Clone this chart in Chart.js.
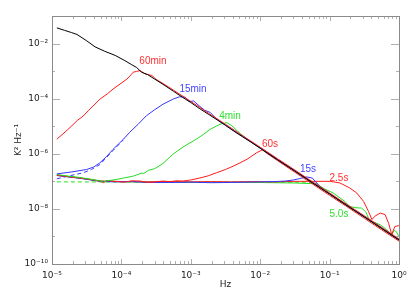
<!DOCTYPE html>
<html>
<head>
<meta charset="utf-8">
<script src="https://cdn.jsdelivr.net/npm/chart.js@4.4.1/dist/chart.umd.min.js"></script>
<style>
  html, body { margin: 0; padding: 0; background: #fff; }
  #wrap { width: 415px; height: 297px; }
</style>
</head>
<body>
<div id="wrap"><canvas id="spectrum" width="415" height="297"></canvas></div>
<script>
// values, stored as log10(Hz) and log10(K^2 Hz^-1)
const blackF = [-4.93,-4.82,-4.72,-4.64,-4.50,-4.38,-4.24,-4.09,-3.95,-3.85,-3.78,-3.71,-3.62,-3.52,-3.40,-3.25,-3.12,-3.00,-2.88,-2.75,-2.62,-2.50,-2.38,-2.25,-2.12,-2.00,-1.75,-1.50,-1.25,-1.00,-0.75,-0.50,-0.25,0];
const blackP = [-1.43,-1.52,-1.60,-1.67,-1.90,-2.12,-2.28,-2.43,-2.62,-2.77,-2.87,-3.04,-3.13,-3.29,-3.48,-3.73,-3.95,-4.14,-4.35,-4.56,-4.77,-4.97,-5.18,-5.39,-5.60,-5.80,-6.22,-6.63,-7.05,-7.46,-7.88,-8.29,-8.71,-9.13];

const red60minF = [-4.93,-4.78,-4.63,-4.55,-4.47,-4.31,-4.20,-4.12,-4.02,-3.92,-3.86,-3.83,-3.78,-3.73,-3.66,-3.56,-3.50,-3.40,-3.25,-3.00,-2.75,-2.50,-2.25,-2.00,-1.75,-1.50,-1.25,-1.00,-0.75,-0.50,-0.25,0];
const red60minP = [-5.47,-5.14,-4.78,-4.63,-4.42,-4.02,-3.82,-3.65,-3.47,-3.29,-3.13,-3.04,-3.01,-2.98,-3.10,-3.16,-3.30,-3.45,-3.69,-4.10,-4.52,-4.93,-5.35,-5.76,-6.18,-6.59,-7.01,-7.42,-7.84,-8.25,-8.67,-9.09];

const blue15minF = [-4.93,-4.72,-4.50,-4.40,-4.31,-4.21,-4.12,-3.97,-3.88,-3.76,-3.64,-3.52,-3.40,-3.25,-3.16,-3.08,-3.02,-2.96,-2.88,-2.80,-2.72,-2.62,-2.50,-2.25,-2.00,-1.75,-1.50,-1.25,-1.00,-0.75,-0.50,-0.25,0];
const blue15minP = [-6.73,-6.66,-6.57,-6.48,-6.33,-6.09,-5.84,-5.47,-5.22,-4.93,-4.62,-4.40,-4.20,-4.01,-3.93,-3.95,-4.11,-4.08,-4.26,-4.42,-4.50,-4.76,-4.96,-5.37,-5.79,-6.21,-6.62,-7.04,-7.45,-7.87,-8.28,-8.70,-9.11];
const blue15minModelF = [-4.93,-4.75,-4.55,-4.43,-4.31,-4.21,-4.12,-3.97];
const blue15minModelP = [-6.91,-6.80,-6.69,-6.57,-6.39,-6.12,-5.88,-5.49];

const green4minF = [-4.93,-4.80,-4.60,-4.45,-4.33,-4.28,-4.26,-4.22,-4.14,-4.05,-3.95,-3.84,-3.76,-3.71,-3.68,-3.61,-3.52,-3.40,-3.26,-3.11,-2.92,-2.82,-2.72,-2.58,-2.48,-2.41,-2.30,-2.18,-2.00,-1.75,-1.50,-1.25,-1.00,-0.75,-0.50,-0.25,0];
const green4minP = [-6.75,-6.80,-6.86,-6.92,-6.97,-7.00,-7.03,-6.98,-6.96,-6.92,-6.87,-6.82,-6.75,-6.70,-6.72,-6.60,-6.54,-6.35,-6.02,-5.75,-5.47,-5.30,-5.11,-4.93,-4.87,-4.98,-5.24,-5.48,-5.80,-6.20,-6.62,-7.04,-7.45,-7.88,-8.29,-8.71,-9.12];

const red60sF = [-4.93,-4.80,-4.60,-4.45,-4.31,-4.26,-4.20,-4.10,-3.95,-3.85,-3.73,-3.62,-3.52,-3.40,-3.30,-3.20,-3.11,-3.00,-2.87,-2.75,-2.63,-2.50,-2.39,-2.29,-2.19,-2.05,-1.97,-1.90,-1.75,-1.50,-1.25,-1.00,-0.75,-0.50,-0.25,0];
const red60sP = [-6.78,-6.82,-6.88,-6.93,-6.99,-7.05,-6.97,-7.00,-7.03,-6.98,-6.99,-7.04,-7.02,-6.99,-7.01,-6.98,-6.99,-6.95,-6.88,-6.80,-6.69,-6.57,-6.45,-6.33,-6.20,-5.96,-5.86,-5.99,-6.25,-6.67,-7.09,-7.51,-7.92,-8.34,-8.76,-9.17];

const blue15sF = [-4.93,-4.60,-4.31,-4.10,-3.85,-3.60,-3.30,-3.00,-2.70,-2.43,-2.20,-2.00,-1.80,-1.64,-1.52,-1.43,-1.33,-1.25,-1.17,-1.10,-1.00,-0.75,-0.50,-0.25,0];
const blue15sP = [-6.79,-6.89,-7.00,-7.02,-7.01,-7.04,-7.04,-7.03,-7.05,-7.04,-7.03,-7.02,-7.01,-6.99,-6.95,-6.90,-6.84,-6.88,-7.10,-7.29,-7.45,-7.87,-8.28,-8.70,-9.12];

const green5sF = [-4.93,-4.60,-4.31,-4.10,-3.85,-3.60,-3.30,-3.00,-2.70,-2.40,-2.10,-1.80,-1.50,-1.28,-1.19,-1.07,-0.95,-0.78,-0.71,-0.62,-0.54,-0.48,-0.42,-0.35,-0.27,-0.22,-0.15,-0.105,-0.07,-0.036,0];
const green5sP = [-6.77,-6.88,-6.99,-7.01,-7.02,-7.03,-7.03,-7.04,-7.04,-7.03,-7.04,-7.05,-7.06,-7.08,-7.09,-7.28,-7.42,-7.73,-7.91,-7.96,-7.97,-8.10,-8.45,-8.49,-8.58,-8.67,-8.82,-8.94,-8.78,-8.83,-9.03];

const red2_5sF = [-4.93,-4.60,-4.31,-4.10,-3.85,-3.60,-3.30,-3.00,-2.70,-2.40,-2.10,-1.80,-1.50,-1.20,-0.99,-0.85,-0.71,-0.61,-0.51,-0.44,-0.39,-0.35,-0.27,-0.20,-0.15,-0.105,-0.06,-0.01,0];
const red2_5sP = [-6.78,-6.88,-6.99,-7.00,-7.01,-7.02,-7.01,-7.02,-7.01,-7.02,-7.01,-7.02,-7.00,-7.00,-7.00,-7.06,-7.24,-7.42,-7.73,-8.09,-8.39,-8.27,-8.15,-8.21,-8.52,-8.93,-8.64,-8.61,-8.61];

const greenModelF = [-4.93,-1.22,-1.00,-0.50,0];
const greenModelP = [-7.02,-7.03,-7.46,-8.29,-9.12];

const xDecades = [-5,-4,-3,-2,-1,0];
const yDecades = [-10,-9,-8,-7,-6,-5,-4,-3,-2,-1];

// curve names written inside the plot
const curveLabels = [
  { text: '60min', color: '#ff3030', f: -3.545, p: -2.66 },
  { text: '15min', color: '#4444ff', f: -2.968, p: -3.65 },
  { text: '4min',  color: '#33e033', f: -2.435, p: -4.635 },
  { text: '60s',   color: '#ff3030', f: -1.859, p: -5.657 },
  { text: '15s',   color: '#4444ff', f: -1.311, p: -6.569 },
  { text: '2.5s',  color: '#ff3030', f: -0.865, p: -6.898 },
  { text: '5.0s',  color: '#33e033', f: -0.865, p: -8.212 }
];

const RED = '#ff1a1a', BLUE = '#3535ff', GREEN = '#22dd22';

function pts(F, P) {
  return F.map((f, i) => ({ x: Math.pow(10, f), y: Math.pow(10, P[i]) }));
}

function series(F, P, color, dash) {
  return {
    data: pts(F, P),
    borderColor: color,
    borderWidth: 1,
    borderDash: dash || [],
    pointRadius: 0,
    tension: 0,
    fill: false
  };
}

const SUP = { '0':'⁰','1':'¹','2':'²','3':'³','4':'⁴','5':'⁵','6':'⁶','7':'⁷','8':'⁸','9':'⁹','-':'⁻' };
function pow10Label(v) {
  const e = Math.round(Math.log10(v));
  return '10' + String(e).split('').map(c => SUP[c]).join('');
}

const frameTicks = {
  id: 'frameTicks',
  afterDraw(chart) {
    const { ctx, chartArea: a, scales } = chart;
    const xs = scales.x, ys = scales.y;
    ctx.save();
    ctx.lineWidth = 1;
    ctx.strokeStyle = '#b0b0b0';
    ctx.beginPath();
    xDecades.forEach(d => {
      for (let k = 1; k <= 9; k++) {
        const v = k * Math.pow(10, d);
        if (v > 1.0001) break;
        const px = Math.round(xs.getPixelForValue(v)) + 0.5;
        const len = k === 1 ? 5 : 3;
        ctx.moveTo(px, a.bottom); ctx.lineTo(px, a.bottom - len);
        ctx.moveTo(px, a.top); ctx.lineTo(px, a.top + len);
      }
    });
    yDecades.forEach(d => {
      const py = Math.round(ys.getPixelForValue(Math.pow(10, d))) + 0.5;
      const len = d % 2 === 0 ? 8 : 3;
      ctx.moveTo(a.left, py); ctx.lineTo(a.left + len, py);
      ctx.moveTo(a.right, py); ctx.lineTo(a.right - len, py);
    });
    ctx.stroke();
    ctx.strokeStyle = '#8a8a8a';
    ctx.strokeRect(Math.round(a.left) + 0.5, Math.round(a.top) + 0.5,
      Math.round(a.right - a.left), Math.round(a.bottom - a.top));
    ctx.restore();
  },
  afterDatasetsDraw(chart) {
    const { ctx, scales } = chart;
    ctx.save();
    ctx.font = '10px "Liberation Sans", Arial, sans-serif';
    ctx.textAlign = 'center';
    ctx.textBaseline = 'middle';
    curveLabels.forEach(l => {
      ctx.fillStyle = l.color;
      ctx.fillText(l.text, scales.x.getPixelForValue(Math.pow(10, l.f)), scales.y.getPixelForValue(Math.pow(10, l.p)));
    });
    ctx.restore();
  }
};

const tickFont = { family: '"DejaVu Sans", sans-serif', size: 9 };

new Chart(document.getElementById('spectrum'), {
  type: 'line',
  data: {
    datasets: [
      series(blackF, blackP, '#000000'),
      series(red60minF, red60minP, RED),
      series(blue15minF, blue15minP, BLUE),
      series(green4minF, green4minP, GREEN),
      series(red60sF, red60sP, RED),
      series(blue15sF, blue15sP, BLUE),
      series(red2_5sF, red2_5sP, RED),
      series(green5sF, green5sP, GREEN),
      series(blue15minModelF, blue15minModelP, BLUE, [4, 3]),
      series(greenModelF, greenModelP, GREEN, [4, 3])
    ]
  },
  options: {
    responsive: false,
    animation: false,
    devicePixelRatio: 1,
    layout: { padding: { top: 16, right: 16, left: 0, bottom: 0 } },
    plugins: { legend: { display: false }, tooltip: { enabled: false } },
    scales: {
      x: {
        type: 'logarithmic',
        min: 1e-5,
        max: 1,
        grid: { display: false, drawTicks: false },
        border: { display: false },
        afterBuildTicks: s => { s.ticks = xDecades.map(d => ({ value: Math.pow(10, d) })); },
        afterFit: s => { s.height = 33; },
        ticks: { autoSkip: false, maxRotation: 0, padding: 6, color: '#222', font: tickFont, callback: v => pow10Label(v) },
        title: { display: true, text: 'Hz', color: '#222', font: tickFont, padding: { top: 0, bottom: 7 } }
      },
      y: {
        type: 'logarithmic',
        min: 1e-10,
        max: 1e-1,
        grid: { display: false, drawTicks: false },
        border: { display: false },
        afterBuildTicks: s => { s.ticks = yDecades.map(d => ({ value: Math.pow(10, d) })); },
        afterFit: s => { s.width = 52; },
        ticks: {
          autoSkip: false, padding: 4, color: '#222', font: tickFont,
          callback: v => (Math.round(Math.log10(v)) % 2 === 0 ? pow10Label(v) : '')
        },
        title: { display: true, text: 'K² Hz⁻¹', color: '#222', font: tickFont, padding: { top: 13, bottom: 0 } }
      }
    }
  },
  plugins: [frameTicks]
});
</script>
</body>
</html>
